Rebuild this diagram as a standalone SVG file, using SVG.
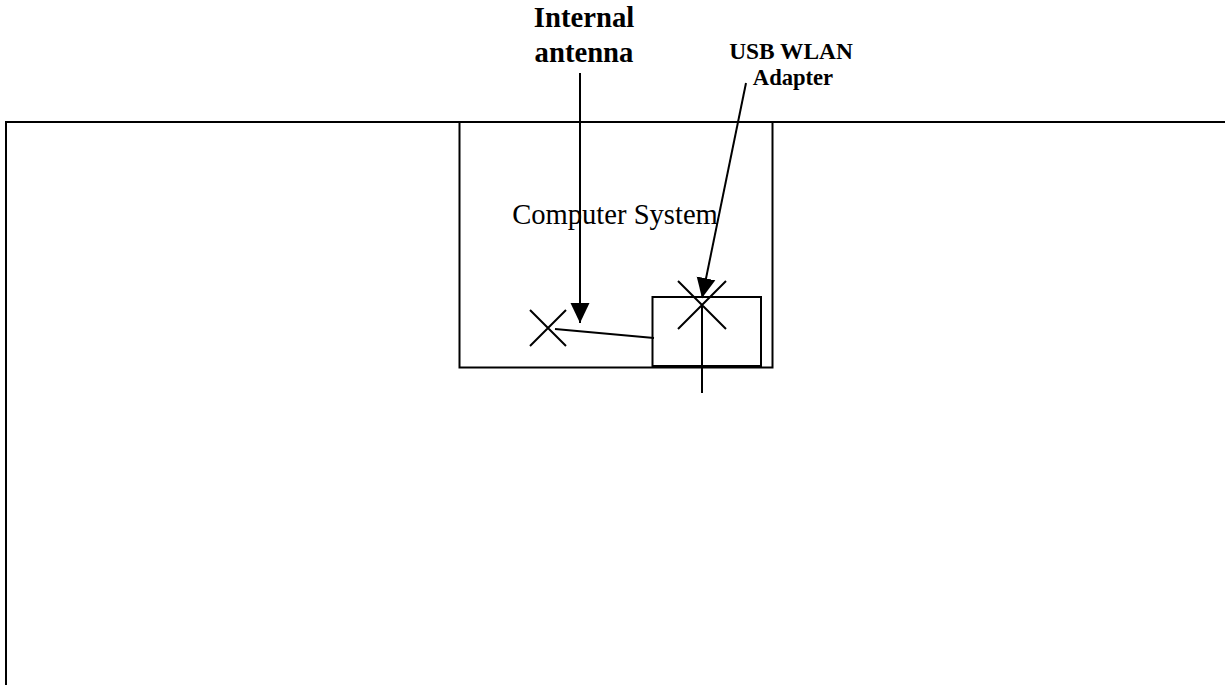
<svg xmlns="http://www.w3.org/2000/svg" width="1225" height="685" viewBox="0 0 1225 685">
<style>
.ln{fill:none;stroke:#000;stroke-width:2}
.t{font-family:"Liberation Serif","Times New Roman",serif;fill:#000}
.b{font-weight:bold}
</style>
<defs>
<marker id="ah" markerUnits="userSpaceOnUse" markerWidth="20" markerHeight="20" refX="20" refY="10" orient="auto" viewBox="0 0 20 20">
<path d="M0,0.5 L20,10 L0,19.5 Z" fill="#000"/>
</marker>
</defs>
<rect width="1225" height="685" fill="#fff"/>
<g id="environment">
<path class="ln" d="M6,685 V122 H1225"/>
</g>
<g id="computer-system">
<rect class="ln" x="459.5" y="122" width="313" height="245.5"/>
<text class="t" x="615" y="224" font-size="28.6" text-anchor="middle">Computer System</text>
</g>
<g id="internal-antenna">
<path class="ln" d="M530,310 L566,346 M566,310 L530,346"/>
</g>
<g id="usb-wlan-adapter">
<rect class="ln" x="652.5" y="297" width="108.5" height="69"/>
<path class="ln" d="M678,281 L726,329 M726,281 L678,329"/>
</g>
<g id="labels">
<text class="t b" x="584" y="27" font-size="28.7" text-anchor="middle">Internal</text>
<text class="t b" x="584" y="62" font-size="28.7" text-anchor="middle">antenna</text>
<text class="t b" x="791" y="59" font-size="23.4" text-anchor="middle">USB WLAN</text>
<text class="t b" x="793" y="85" font-size="22.6" text-anchor="middle">Adapter</text>
</g>
<g id="connectors">
<line class="ln" x1="580" y1="73" x2="580" y2="323" marker-end="url(#ah)"/>
<line class="ln" x1="746" y1="83" x2="702" y2="298" marker-end="url(#ah)"/>
<line class="ln" x1="555" y1="329" x2="654" y2="338"/>
<line class="ln" x1="702" y1="305" x2="702" y2="393"/>
</g>
</svg>
